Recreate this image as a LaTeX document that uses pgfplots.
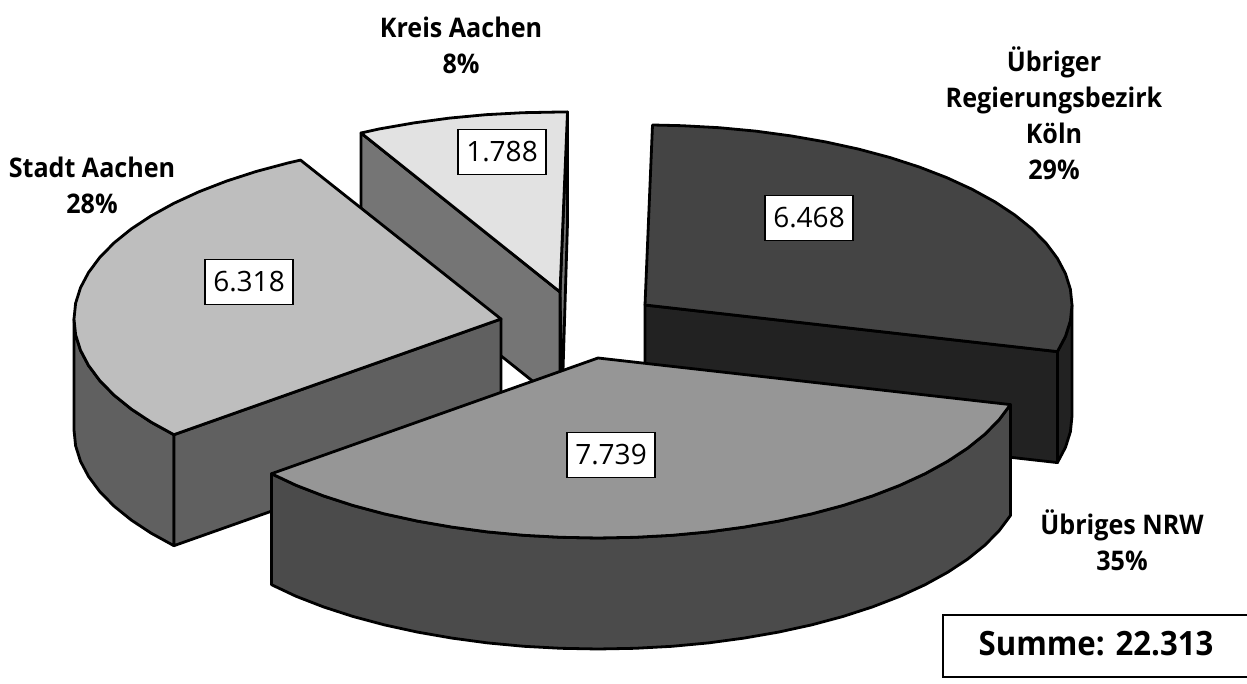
\documentclass[border=0pt]{standalone}
\usepackage{fontspec}
\setmainfont[BoldFeatures={FakeStretch=0.93}]{Open Sans}
\usepackage{pgfplots}
\pgfplotsset{compat=1.18}

\definecolor{kreistop}{HTML}{E2E2E2}
\definecolor{kreisside}{HTML}{757575}
\definecolor{stadttop}{HTML}{BEBEBE}
\definecolor{stadtside}{HTML}{606060}
\definecolor{koelntop}{HTML}{444444}
\definecolor{koelnside}{HTML}{222222}
\definecolor{nrwtop}{HTML}{969696}
\definecolor{nrwside}{HTML}{4B4B4B}

\tikzset{
  wedge/.style={draw=black, line width=2.8pt, line join=round},
  valbox/.style={draw=black, fill=white, line width=1.8pt, minimum width=88pt, minimum height=45pt,
    inner sep=0pt, font=\fontsize{28}{30}\selectfont},
  lab/.style={align=center, inner sep=0pt, font=\fontsize{27}{36}\selectfont\bfseries}
}

\begin{document}
\begin{tikzpicture}
\useasboundingbox (0,0) rectangle (1247pt,684pt);
\begin{axis}[
    scale only axis,
    width=1247pt, height=684pt,
    xmin=0, xmax=1247, ymin=0, ymax=684,
    y dir=reverse,
    hide axis,
    clip=false,
]
% Kreis Aachen
\addplot[wedge, fill=kreisside] coordinates {(567.5,112) (567.5,223) (562,403) (560,292)} -- cycle;
\addplot[wedge, fill=kreisside] coordinates {(361,133) (560,292) (560,403) (361,244)} -- cycle;
\addplot[wedge, fill=kreistop] coordinates {
  (560,292) (361,133) (379.5,128.9) (414,122.9) (449.5,118.1) (485.9,114.7) (522.8,112.7) (560,112) (567.5,112)
} -- cycle;
% Stadt Aachen
\addplot[wedge, fill=stadtside] coordinates {
  (74,319) (75.6,334.7) (80.5,350.3) (88.6,365.6) (99.8,380.6) (114,395.1) (131.2,409) (151.2,422.2) (173.9,434.7)
  (173.9,545.7) (151.2,533.2) (131.2,520) (114,506.1) (99.8,491.6) (88.6,476.6) (80.5,461.3) (75.6,445.7) (74,430)
} -- cycle;
\addplot[wedge, fill=stadtside] coordinates {(173.9,434.7) (501,319) (501,430) (173.9,545.7)} -- cycle;
\addplot[wedge, fill=stadttop] coordinates {
  (501,319) (173.9,434.7) (151.2,422.2) (131.2,409) (114,395.1) (99.8,380.6) (88.6,365.6) (80.5,350.3) (75.6,334.7)
  (74,319) (75.6,303.3) (80.5,287.7) (88.6,272.4) (99.8,257.4) (114,242.9) (131.2,229) (151.2,215.8) (173.9,203.3)
  (199.1,191.7) (226.5,181.1) (256.1,171.5) (287.5,163.1) (300.5,160.1)
} -- cycle;
% Uebriger Regierungsbezirk Koeln
\addplot[wedge, fill=koelnside] coordinates {
  (1072,305) (1070.4,320.7) (1065.5,336.3) (1057.4,351.6) (1057.4,462.6) (1065.5,447.3) (1070.4,431.7) (1072,416)
} -- cycle;
\addplot[wedge, fill=koelnside] coordinates {(645,305) (1057.4,351.6) (1057.4,462.6) (645,416)} -- cycle;
\addplot[wedge, fill=koelntop] coordinates {
  (645,305) (652.5,125) (682.2,125.7) (719.1,127.7) (755.5,131.1) (791,135.9) (825.5,141.9) (858.5,149.1) (889.9,157.5)
  (919.5,167.1) (946.9,177.7) (972.1,189.3) (994.8,201.8) (1014.8,215) (1032,228.9) (1046.2,243.4) (1057.4,258.4)
  (1065.5,273.7) (1070.4,289.3) (1072,305) (1070.4,320.7) (1065.5,336.3) (1057.4,351.6)
} -- cycle;
% Uebriges NRW
\addplot[wedge, fill=nrwside] coordinates {
  (1010.4,404.6) (999.2,419.6) (985,434.1) (967.8,448) (947.8,461.2) (925.1,473.7) (899.9,485.3) (872.5,495.9)
  (842.9,505.5) (811.5,513.9) (778.5,521.1) (744,527.1) (708.5,531.9) (672.1,535.3) (635.2,537.3) (598,538)
  (560.8,537.3) (523.9,535.3) (487.5,531.9) (452,527.1) (417.5,521.1) (384.5,513.9) (353.1,505.5) (323.5,495.9)
  (296.1,485.3) (271.5,473.7)
  (271.5,584.7) (296.1,596.3) (323.5,606.9) (353.1,616.5) (384.5,624.9) (417.5,632.1) (452,638.1) (487.5,642.9)
  (523.9,646.3) (560.8,648.3) (598,649) (635.2,648.3) (672.1,646.3) (708.5,642.9) (744,638.1) (778.5,632.1)
  (811.5,624.9) (842.9,616.5) (872.5,606.9) (899.9,596.3) (925.1,584.7) (947.8,572.2) (967.8,559) (985,545.1)
  (999.2,530.6) (1010.4,515.6)
} -- cycle;
\addplot[wedge, fill=nrwtop] coordinates {
  (598,358) (1010.4,404.6) (999.2,419.6) (985,434.1) (967.8,448) (947.8,461.2) (925.1,473.7) (899.9,485.3) (872.5,495.9)
  (842.9,505.5) (811.5,513.9) (778.5,521.1) (744,527.1) (708.5,531.9) (672.1,535.3) (635.2,537.3) (598,538)
  (560.8,537.3) (523.9,535.3) (487.5,531.9) (452,527.1) (417.5,521.1) (384.5,513.9) (353.1,505.5) (323.5,495.9)
  (296.1,485.3) (271.5,473.7)
} -- cycle;

\node[valbox] at (axis cs:502,152) {1.788};
\node[valbox] at (axis cs:249,282) {6.318};
\node[valbox] at (axis cs:809,218) {6.468};
\node[valbox] at (axis cs:611,455) {7.739};

\node[lab] at (axis cs:461,45) {Kreis Aachen\\8\%};
\node[lab] at (axis cs:92,185) {Stadt Aachen\\28\%};
\node[lab] at (axis cs:1054,113) {Übriger\\Regierungsbezirk\\Köln\\29\%};
\node[lab] at (axis cs:1122,540) {Übriges NRW\\35\%};

\draw[line width=1.8pt] (axis cs:1247,615) -- (axis cs:943,615) -- (axis cs:943,677) -- (axis cs:1247,677);
\node[inner sep=0pt, font=\fontsize{33.5}{36}\selectfont\bfseries] at (axis cs:1096,644) {Summe: 22.313};
\end{axis}
\end{tikzpicture}
\end{document}
